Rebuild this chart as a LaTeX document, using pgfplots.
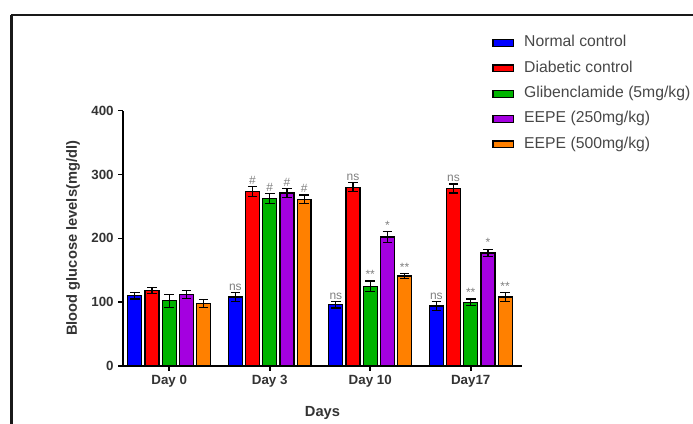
\documentclass[border=0pt]{standalone}
\usepackage{fontspec}
\setmainfont{Liberation Sans}
\usepackage{pgfplots}
\pgfplotsset{compat=1.18}
\definecolor{cBlue}{HTML}{0000FF}
\definecolor{cRed}{HTML}{FF0000}
\definecolor{cGreen}{HTML}{00B400}
\definecolor{cPurple}{HTML}{A400E0}
\definecolor{cOrange}{HTML}{FF8000}
\definecolor{txt}{HTML}{333333}
\definecolor{ann}{HTML}{808080}
\pgfplotsset{
  mybar/.style={ybar, bar width=0.139, bar shift=0pt, draw=black, line width=0.9pt, fill=#1,
    legend image code/.code={\draw[fill=#1, draw=black, line width=0.9pt] (0pt,-2.6pt) rectangle (15.5pt,2.6pt); \path (22pt,0pt);},
    error bars/.cd, y dir=both, y explicit,
    error bar style={line width=0.9pt, black},
    error mark options={rotate=90, mark size=3.6pt, line width=0.9pt, black}},
  ann/.style={draw=none, mark=none, forget plot, nodes near coords, point meta=explicit symbolic,
    nodes near coords style={font=\fontsize{9}{10}\selectfont, text=ann, anchor=south, inner sep=1.5pt}}
}
\begin{document}
\begin{tikzpicture}
\begin{axis}[
  at={(92.25pt,43.5pt)}, anchor=south west,
  scale only axis, width=299.25pt, height=191.5pt,
  clip=false,
  xmin=-0.46, xmax=3.51, ymin=0, ymax=400,
  axis x line=bottom, axis y line=left,
  x axis line style={-, line width=1.1pt},
  y axis line style={-, line width=1.5pt},
  xtick={0,1,2,3}, xticklabels={Day 0,Day 3,Day 10,Day17},
  ytick={0,100,200,300,400},
  tick align=outside, major tick length=3.5pt,
  every tick/.style={black, line width=1.2pt},
  ticklabel style={font=\bfseries\fontsize{10}{12}\selectfont, text=txt},
  /pgf/number format/assume math mode=true,
  xlabel={Days}, ylabel={Blood glucose levels(mg/dl)},
  label style={font=\bfseries\fontsize{11}{13}\selectfont, text=txt},
  xlabel style={at={(axis description cs:0.5,-0.184)}, anchor=center},
  ylabel style={at={(axis description cs:-0.125,0.5)}, anchor=center},
  legend style={at={(rel axis cs:0.915,1.31)}, anchor=north west, draw=none, fill=none,
    font=\fontsize{11.8}{13}\selectfont, text=txt!90, row sep=6.1pt,
    nodes={inner sep=1pt, text height=8.3pt, text depth=2.6pt}},
  legend cell align=left,
]
\addplot[mybar=cBlue] coordinates {(-0.342,110) +- (0,5) (0.658,108) +- (0,7) (1.658,96) +- (0,5) (2.658,94) +- (0,7)};
\addlegendentry{Normal control}
\addplot[mybar=cRed] coordinates {(-0.171,118) +- (0,5) (0.829,273) +- (0,8) (1.829,280) +- (0,7) (2.829,278) +- (0,7)};
\addlegendentry{Diabetic control}
\addplot[mybar=cGreen] coordinates {(0,102) +- (0,10) (1,262) +- (0,8) (2,125) +- (0,8) (3,100) +- (0,5)};
\addlegendentry{Glibenclamide (5mg/kg)}
\addplot[mybar=cPurple] coordinates {(0.171,112) +- (0,6) (1.171,271) +- (0,7) (2.171,202) +- (0,9) (3.171,177) +- (0,6)};
\addlegendentry{EEPE (250mg/kg)}
\addplot[mybar=cOrange] coordinates {(0.342,98) +- (0,6) (1.342,261) +- (0,7) (2.342,141) +- (0,4) (3.342,108) +- (0,7)};
\addlegendentry{EEPE (500mg/kg)}
% significance annotations
\addplot[ann] coordinates {(0.658,115)[ns] (1.658,101)[ns] (2.658,101)[ns]};
\addplot[ann] coordinates {(0.829,281)[\#] (1.829,287)[ns] (2.829,285)[ns]};
\addplot[ann] coordinates {(1,270)[\#] (2,133)[**] (3,105)[**]};
\addplot[ann] coordinates {(1.171,278)[\#] (2.171,211)[*] (3.171,183)[*]};
\addplot[ann] coordinates {(1.342,268)[\#] (2.342,145)[**] (3.342,115)[**]};
\end{axis}
\draw[line width=1.6pt, black!90] (8.6pt,307pt) -- (530pt,307pt);
\draw[line width=1.6pt, black!90] (8.6pt,307pt) -- (8.6pt,-10pt);
\pgfresetboundingbox
\useasboundingbox (0,0) rectangle (519.75pt,318pt);
\end{tikzpicture}
\end{document}
